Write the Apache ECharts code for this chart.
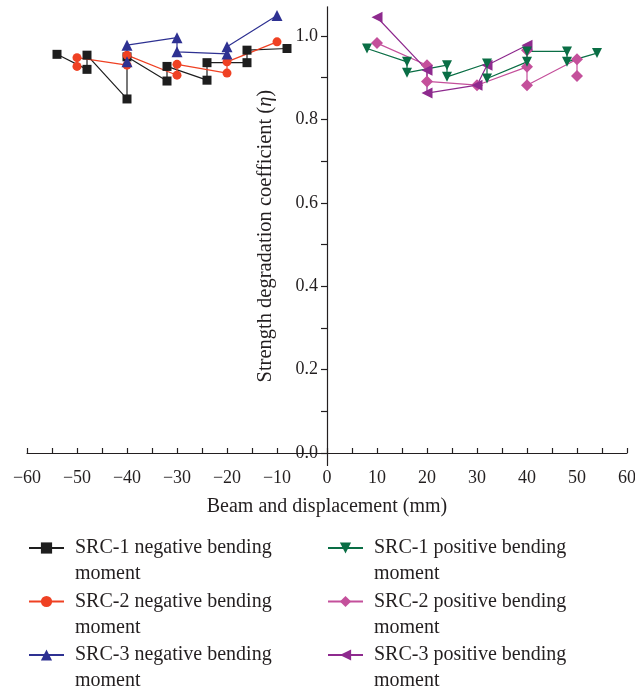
<!DOCTYPE html>
<html><head><meta charset="utf-8">
<script src="https://cdn.jsdelivr.net/npm/echarts@6/dist/echarts.min.js"></script>
<style>html,body{margin:0;padding:0;background:#fff}#c{width:635px;height:692px}</style>
</head><body><div id="c"></div>
<script>
// ---- data (x = displacement mm, y = strength degradation coefficient) ----
const src1Neg = [[-54,0.956],[-48,0.920],[-48,0.954],[-40,0.849],[-40,0.950],[-32,0.892],[-32,0.927],[-24,0.894],[-24,0.936],[-16,0.936],[-16,0.966],[-8,0.970]];
const src2Neg = [[-50,0.927],[-50,0.948],[-40,0.930],[-40,0.954],[-30,0.906],[-30,0.932],[-20,0.911],[-20,0.938],[-10,0.986]];
const src3Neg = [[-40,0.938],[-40,0.978],[-30,0.996],[-30,0.962],[-20,0.957],[-20,0.974],[-10,1.049]];
const src1Pos = [[8,0.970],[16,0.938],[16,0.912],[24,0.930],[24,0.902],[32,0.934],[32,0.898],[40,0.938],[40,0.963],[48,0.963],[48,0.938],[54,0.959]];
const src2Pos = [[10,0.983],[20,0.930],[20,0.891],[30,0.882],[40,0.926],[40,0.966],[40,0.882],[50,0.944],[50,0.904]];
const src3Pos = [[10,1.045],[20,0.918],[20,0.863],[30,0.882],[32,0.930],[40,0.978]];

const xTickValues = [-60,-55,-50,-45,-40,-35,-30,-25,-20,-15,-10,-5,0,5,10,15,20,25,30,35,40,45,50,55,60];
const xLabelValues = [-60,-50,-40,-30,-20,-10,0,10,20,30,40,50,60];
const yTickValues = [0,0.1,0.2,0.3,0.4,0.5,0.6,0.7,0.8,0.9,1.0];
const yLabelValues = [0,0.2,0.4,0.6,0.8,1.0];

const namesNeg = ['SRC-1 negative bending moment','SRC-2 negative bending moment','SRC-3 negative bending moment'];
const namesPos = ['SRC-1 positive bending moment','SRC-2 positive bending moment','SRC-3 positive bending moment'];

const FONT = '"Liberation Serif", "Times New Roman", serif';
const TXT = '#231f20';

function mk(name, data, color, symbol, size, rotate) {
  return {
    name, type: 'line', data, symbol, symbolSize: size, symbolRotate: rotate || 0,
    itemStyle: { color }, lineStyle: { color, width: 1.2 },
    animation: false, emphasis: { disabled: true }
  };
}

function lg(name, left, top) {
  return {
    data: [name], left, top, orient: 'vertical', itemWidth: 35, itemHeight: 14, padding: 0,
    selectedMode: false,
    formatter: n => '\n' + n.replace(' moment', '\nmoment'),
    textStyle: { fontFamily: FONT, fontSize: 20, lineHeight: 26, color: TXT, padding: [0, 0, 0, 6] }
  };
}
const rowTops = [509, 562.5, 616];

const chart = echarts.init(document.getElementById('c'), null, { renderer: 'canvas' });
chart.setOption({
  animation: false,
  grid: { left: 27, right: 8, top: 6.8, bottom: 226.5, containLabel: false, outerBoundsMode: 'none' },
  xAxis: {
    type: 'value', min: -60, max: 60, interval: 10, offset: -12.5,
    name: 'Beam and displacement (mm)', nameLocation: 'middle', nameGap: 44,
    nameTextStyle: { fontFamily: FONT, fontSize: 20, color: TXT },
    axisLine: { onZero: false, lineStyle: { color: TXT, width: 1.2 } },
    axisTick: { inside: true, length: 5, customValues: xTickValues, lineStyle: { color: TXT, width: 1.2 } },
    axisLabel: { customValues: xLabelValues, margin: 16, fontFamily: FONT, fontSize: 18, color: TXT,
      formatter: v => v < 0 ? '\u2212' + Math.abs(v) : String(v) },
    splitLine: { show: false }
  },
  yAxis: {
    type: 'value', min: -0.03, max: 1.07, offset: -300,
    name: 'Strength degradation coefficient ({i|\u03b7})', nameLocation: 'middle', nameGap: 51,
    nameTextStyle: { fontFamily: FONT, fontSize: 20.5, color: TXT,
      rich: { i: { fontFamily: FONT, fontSize: 20.5, fontStyle: 'italic', color: TXT } } },
    axisLine: { onZero: false, lineStyle: { color: TXT, width: 1.2 } },
    axisTick: { inside: false, length: 6, customValues: yTickValues, lineStyle: { color: TXT, width: 1.2 } },
    axisLabel: { customValues: yLabelValues, margin: 9, fontFamily: FONT, fontSize: 18, color: TXT,
      formatter: v => v.toFixed(1) },
    splitLine: { show: false }
  },
  legend: [
    lg(namesNeg[0], 28, rowTops[0]), lg(namesNeg[1], 28, rowTops[1]), lg(namesNeg[2], 28, rowTops[2]),
    lg(namesPos[0], 327, rowTops[0]), lg(namesPos[1], 327, rowTops[1]), lg(namesPos[2], 327, rowTops[2])
  ],
  series: [
    mk(namesNeg[0], src1Neg, '#1e1e1e', 'rect', 9),
    mk(namesNeg[1], src2Neg, '#ef4123', 'circle', 9),
    mk(namesNeg[2], src3Neg, '#2e3192', 'triangle', 11),
    mk(namesPos[1], src2Pos, '#c4509b', 'diamond', 12),
    mk(namesPos[2], src3Pos, '#8e2a8e', 'triangle', 11, 90),
    mk(namesPos[0], src1Pos, '#0a6e45', 'triangle', 10, 180)
  ]
});
</script></body></html>
